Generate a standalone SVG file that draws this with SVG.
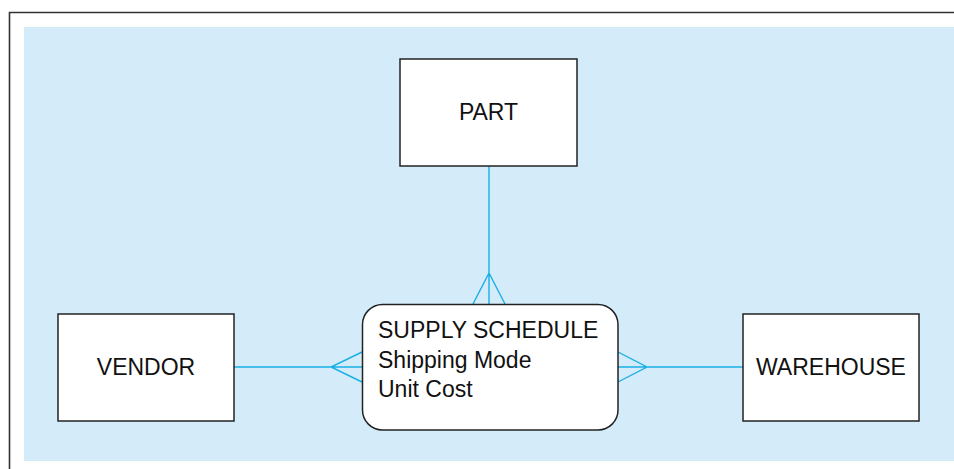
<svg xmlns="http://www.w3.org/2000/svg" width="954" height="469" viewBox="0 0 954 469">
<style>
.box{fill:#ffffff;stroke:#222222;stroke-width:1.5}
.lbl{font-family:"Liberation Sans",Arial,sans-serif;font-size:23px;fill:#111111}
.conn{fill:none;stroke:#1aaee6;stroke-width:1.4}
</style>
<rect x="0" y="0" width="954" height="469" fill="#ffffff"/>
<path d="M9.5,469 V12.5 H954" fill="none" stroke="#333333" stroke-width="1.6"/>
<rect x="24" y="27" width="930" height="434" fill="#d4ecf9"/>
<g id="connectors">
<path class="conn" d="M489,166 V304 M473,304 L489,273 L505,304"/>
<path class="conn" d="M234,367 H362 M362,352 L331,367 L362,382"/>
<path class="conn" d="M618,367 H743 M618,352 L647,367 L618,382"/>
</g>
<g id="part">
<rect class="box" x="400" y="59" width="177" height="107"/>
<text class="lbl" x="488.5" y="120" text-anchor="middle">PART</text>
</g>
<g id="vendor">
<rect class="box" x="58" y="314" width="176" height="107"/>
<text class="lbl" x="146" y="375" text-anchor="middle">VENDOR</text>
</g>
<g id="warehouse">
<rect class="box" x="743" y="314" width="176" height="107"/>
<text class="lbl" x="831" y="375" text-anchor="middle">WAREHOUSE</text>
</g>
<g id="supply-schedule">
<rect class="box" x="362.5" y="304.5" width="255.5" height="125.5" rx="20" ry="20"/>
<text class="lbl" x="378" y="338">SUPPLY SCHEDULE</text>
<text class="lbl" x="378" y="368">Shipping Mode</text>
<text class="lbl" x="378" y="397">Unit Cost</text>
</g>
</svg>
